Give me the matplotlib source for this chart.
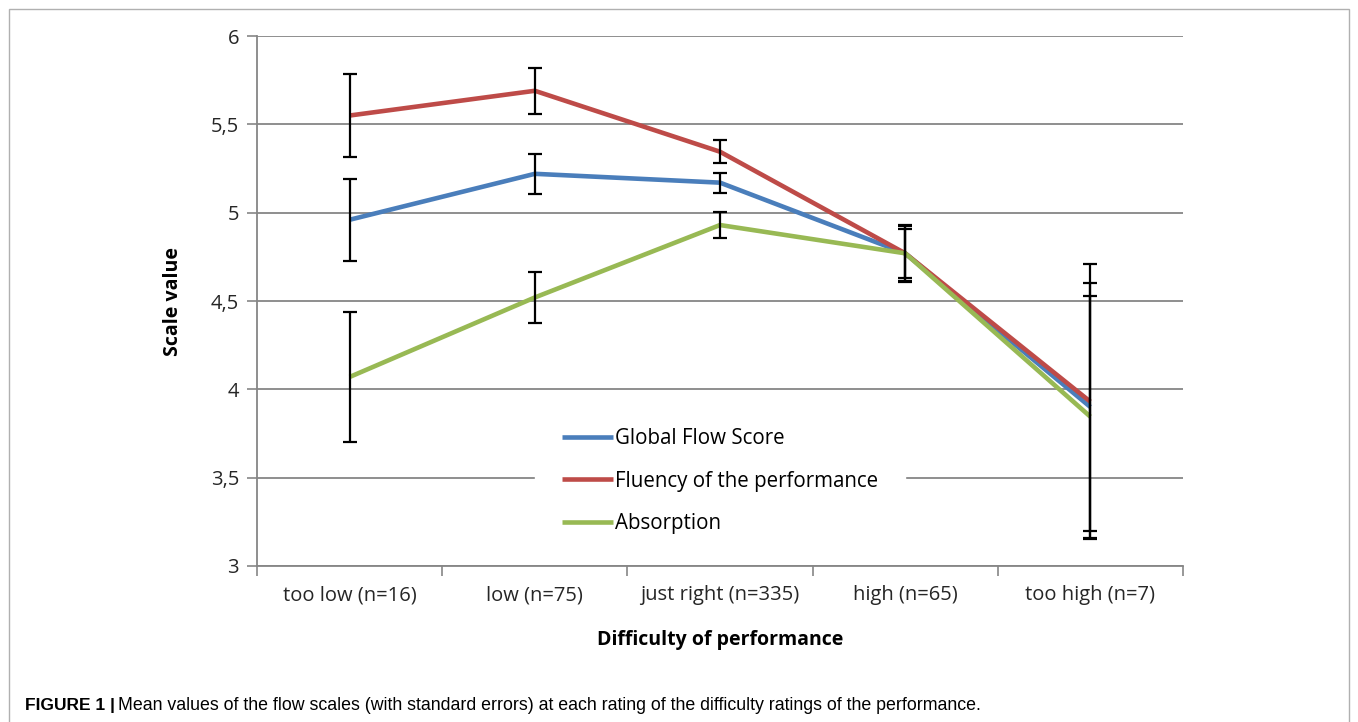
import numpy as np
import matplotlib
matplotlib.use('Agg')
import matplotlib.pyplot as plt
from matplotlib.patches import Rectangle

# data
categories = ['too low (n=16)', 'low (n=75)', 'just right (n=335)', 'high (n=65)', 'too high (n=7)']
global_flow = [4.96, 5.22, 5.17, 4.77, 3.90]
global_flow_se = [0.233, 0.112, 0.057, 0.14, 0.70]
fluency = [5.55, 5.69, 5.345, 4.77, 3.93]
fluency_se = [0.235, 0.13, 0.065, 0.16, 0.78]
absorption = [4.07, 4.52, 4.93, 4.77, 3.845]
absorption_se = [0.37, 0.145, 0.073, 0.155, 0.685]

series_names = ['Global Flow Score', 'Fluency of the performance', 'Absorption']
colors = ['#4A7EBB', '#BE4B48', '#98B954']

plt.rcParams['font.family'] = ['Open Sans', 'DejaVu Sans']

fig = plt.figure(figsize=(13.58, 7.22), dpi=100)
ax = fig.add_axes([0.1893, 0.2161, 0.6818, 0.734])

x = np.arange(len(categories)) + 0.5
grid_col = '#868686'

for vals, name, c in zip([global_flow, fluency, absorption], series_names, colors):
    ax.plot(x, vals, color=c, lw=3.3, label=name, zorder=3, solid_capstyle='butt')
for vals, se in zip([global_flow, fluency, absorption],
                    [global_flow_se, fluency_se, absorption_se]):
    ax.errorbar(x, vals, yerr=se, fmt='none', ecolor='black', elinewidth=1.6,
                capsize=5, capthick=1.6, zorder=4)

ax.set_xlim(0, 5)
ax.set_ylim(3, 6)
yt = np.arange(3, 6.01, 0.5)
ax.set_yticks(yt)
ax.set_yticklabels([('%g' % v).replace('.', ',') for v in yt])
ax.set_xticks(np.arange(0, 6))
ax.set_xticklabels([])
ax.set_xticks(x, minor=True)
ax.set_xticklabels(categories, minor=True)
ax.tick_params(axis='x', which='minor', length=0, pad=14, labelsize=14.5, labelcolor='#262626')
ax.tick_params(axis='x', which='major', length=7, width=1.2, color=grid_col)
ax.tick_params(axis='y', length=7, width=1.2, color=grid_col, pad=6, labelsize=14.5, labelcolor='#262626')

ax.grid(axis='y', color=grid_col, lw=1.3, zorder=0)
ax.set_axisbelow(True)
for s in ['top', 'right']:
    ax.spines[s].set_visible(False)
for s in ['left', 'bottom']:
    ax.spines[s].set_color(grid_col)
    ax.spines[s].set_linewidth(1.3)

ax.set_ylabel('Scale value', fontsize=14, fontweight='bold', labelpad=20)
ax.set_xlabel('Difficulty of performance', fontsize=14, fontweight='bold', labelpad=18)

leg = ax.legend(loc='center', bbox_to_anchor=(0.500, 0.160), frameon=True, fontsize=14.8,
                handlelength=2.5, handletextpad=0.1, labelspacing=1.05, borderpad=1.3)
leg.get_frame().set_facecolor('white')
leg.get_frame().set_edgecolor('white')
leg.get_frame().set_alpha(1)
leg.set_zorder(5)

# outer frame and caption
fig.patches.append(Rectangle((9 / 1358, -0.01), 1340 / 1358, 1 - 9 / 722 + 0.01,
                             transform=fig.transFigure, fill=False,
                             edgecolor='#b0b0b0', lw=1))
fig.text(25 / 1358, 1 - 710 / 722, 'FIGURE 1 |', fontsize=12.5, fontweight='bold',
         family='Liberation Sans', va='baseline', ha='left')
fig.text(118 / 1358, 1 - 710 / 722,
         'Mean values of the flow scales (with standard errors) at each rating of the difficulty ratings of the performance.',
         fontsize=12.8, family='Liberation Sans', va='baseline', ha='left')

fig.savefig('out.png', dpi=100)
